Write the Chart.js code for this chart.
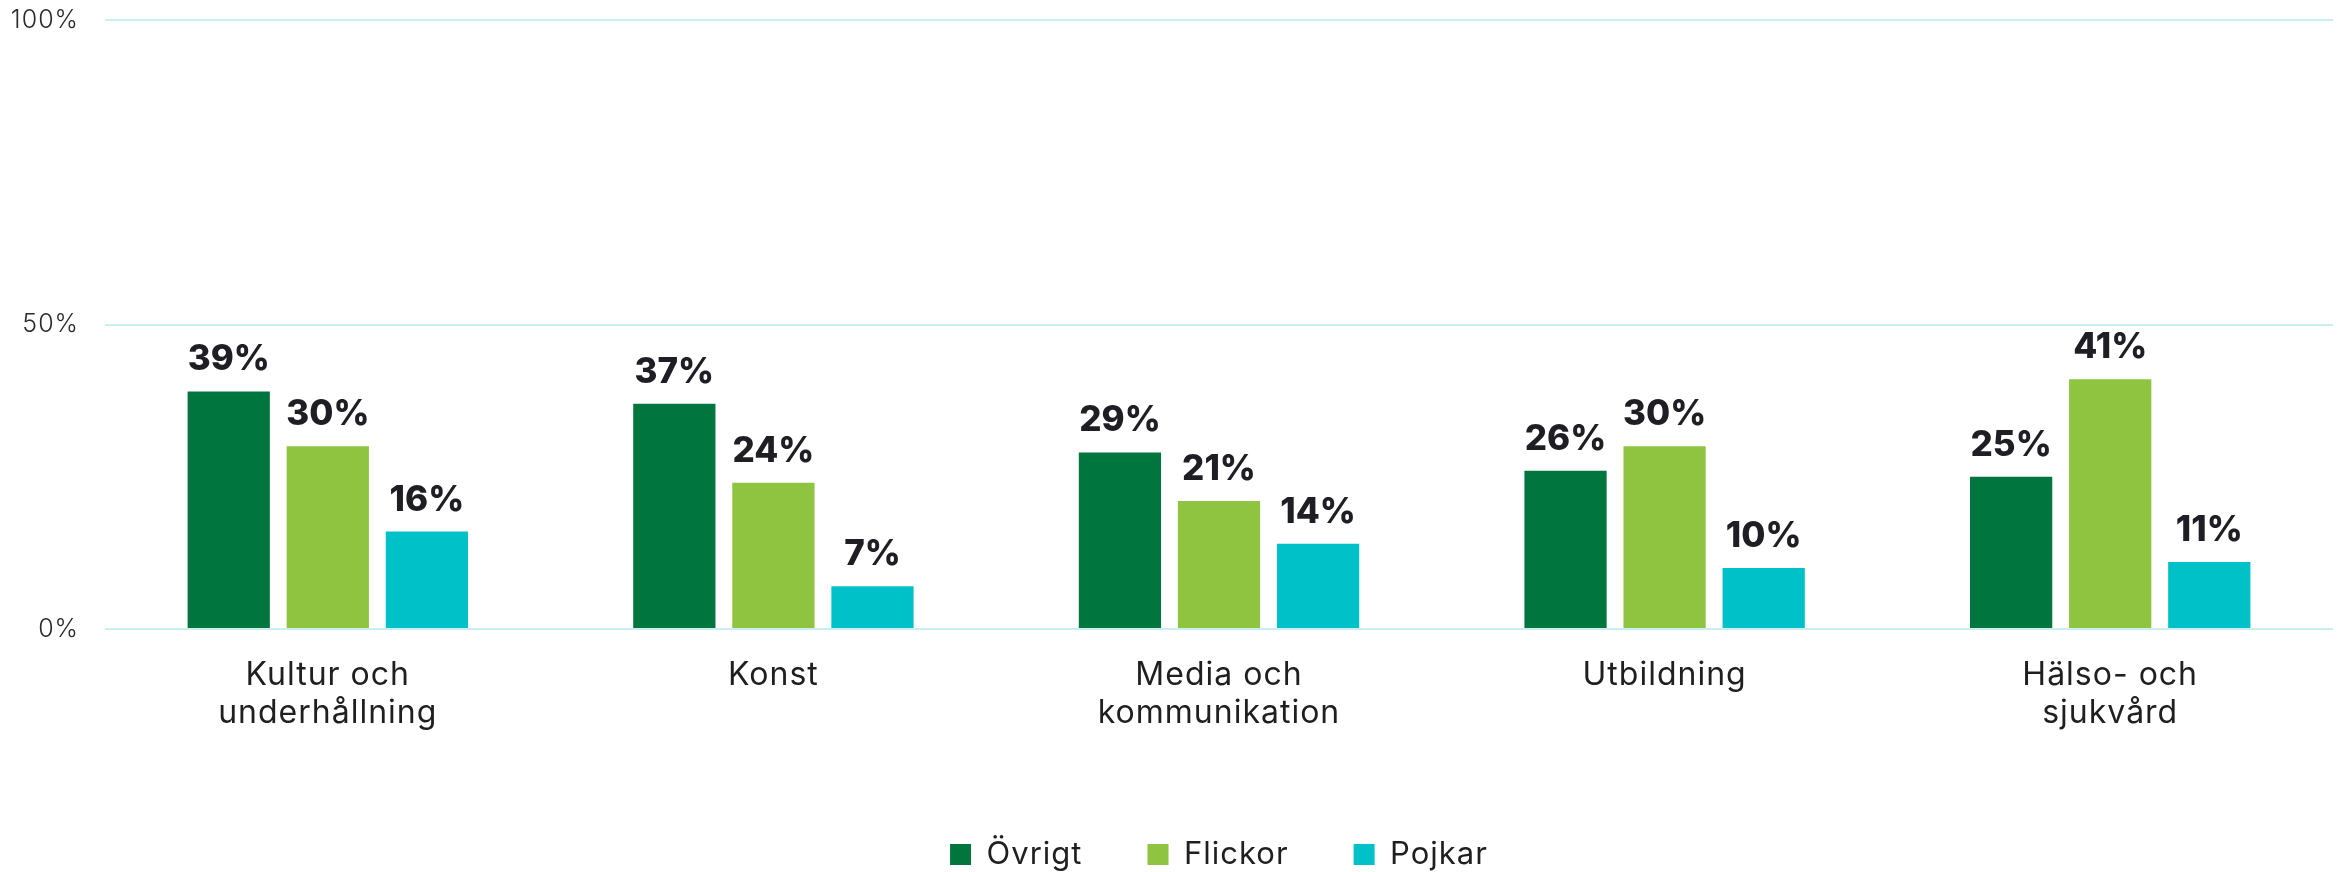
<!DOCTYPE html>
<html lang="sv">
<head>
<meta charset="utf-8">
<title>Bransch per grupp</title>
<script src="https://cdn.jsdelivr.net/npm/chart.js@4.4.1/dist/chart.umd.min.js"></script>
<style>
    html, body {
        margin: 0;
        padding: 0;
        background: #ffffff;
        overflow: hidden;
    }
    #wrap {
        position: relative;
        width: 2341px;
        height: 880px;
    }
</style>
</head>
<body>
<div id="wrap">
    <canvas id="chart"></canvas>
</div>
<script>
// Data
const categories = [
    ['Kultur och', 'underhållning'],
    'Konst',
    ['Media och', 'kommunikation'],
    'Utbildning',
    ['Hälso- och', 'sjukvård']
];
const seriesNames = ['Övrigt', 'Flickor', 'Pojkar'];
const ovrigt = [39, 37, 29, 26, 25];
const flickor = [30, 24, 21, 30, 41];
const pojkar = [16, 7, 14, 10, 11];
const yTicks = [0, 50, 100];

const colors = ['#00753e', '#8fc440', '#00c0c8'];
const fontFamily = 'Inter, "Open Sans", sans-serif';

// Slightly wider tracking for axis and legend text
const tracking = {
    id: 'tracking',
    beforeUpdate(chart) {
        chart.ctx.letterSpacing = '1px';
    },
    beforeDraw(chart) {
        chart.ctx.letterSpacing = '1px';
    }
};

// Value labels above each bar
const valueLabels = {
    id: 'valueLabels',
    afterDatasetsDraw(chart) {
        const ctx = chart.ctx;
        ctx.save();
        ctx.letterSpacing = '0px';
        ctx.font = `800 35px ${fontFamily}`;
        ctx.fillStyle = '#1e1e24';
        ctx.textAlign = 'center';
        ctx.textBaseline = 'alphabetic';
        chart.data.datasets.forEach((ds, i) => {
            const meta = chart.getDatasetMeta(i);
            meta.data.forEach((bar, j) => {
                ctx.fillText(ds.data[j] + '%', bar.x, bar.y - 21);
            });
        });
        ctx.restore();
    }
};

const ctx = document.getElementById('chart').getContext('2d');
const chart = new Chart(ctx, {
    type: 'bar',
    data: {
        labels: categories,
        datasets: [
            { label: seriesNames[0], data: ovrigt, backgroundColor: colors[0] },
            { label: seriesNames[1], data: flickor, backgroundColor: colors[1] },
            { label: seriesNames[2], data: pojkar, backgroundColor: colors[2] }
        ]
    },
    options: {
        responsive: true,
        maintainAspectRatio: false,
        animation: false,
        datasets: {
            bar: {
                categoryPercentage: 0.667,
                barPercentage: 0.83
            }
        },
        layout: {
            padding: { top: 20, right: 8, bottom: 0, left: 0 }
        },
        scales: {
            x: {
                grid: { display: false, drawTicks: false },
                border: { display: false },
                ticks: {
                    padding: 27,
                    color: '#1f1f1f',
                    font: { family: fontFamily, size: 32, weight: 400, lineHeight: 1.2 }
                },
                afterFit(scale) {
                    scale.height = 145;
                }
            },
            y: {
                min: 0,
                max: 100,
                afterBuildTicks(scale) {
                    scale.ticks = yTicks.map(v => ({ value: v }));
                },
                grid: {
                    color: '#c8eef1',
                    lineWidth: 2,
                    drawTicks: false
                },
                border: { display: false },
                ticks: {
                    padding: 26,
                    color: '#2a2a2a',
                    font: { family: fontFamily, size: 25, weight: 300 },
                    callback: (v) => v + '%'
                },
                afterFit(scale) {
                    scale.width = 105;
                    scale.paddingTop = 0;
                    scale.paddingBottom = 0;
                }
            }
        },
        plugins: {
            legend: {
                position: 'bottom',
                fullSize: false,
                labels: {
                    boxWidth: 21,
                    boxHeight: 21,
                    padding: 65,
                    color: '#1f1f1f',
                    font: { family: fontFamily, size: 31, weight: 400 }
                }
            },
            tooltip: { enabled: false }
        }
    },
    plugins: [tracking, valueLabels]
});
</script>
</body>
</html>
